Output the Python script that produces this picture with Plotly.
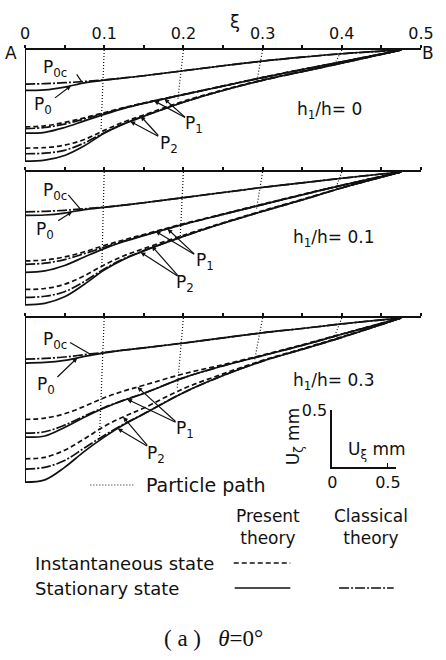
import numpy as np
import plotly.graph_objects as go

# ---------------- data (downward displacement U_zeta in mm) -------------
XI = [0, 0.025, 0.05, 0.075, 0.1, 0.125, 0.15, 0.2, 0.25, 0.3, 0.35, 0.4, 0.475]
TOP_TICKS = [0, 0.05, 0.1, 0.15, 0.2, 0.25, 0.3, 0.35, 0.4, 0.45, 0.5]
TOP_LABELS = ["0", "", "0.1", "", "0.2", "", "0.3", "", "0.4", "", "0.5"]
PANEL_LABELS = ["h<sub>1</sub>/h= 0", "h<sub>1</sub>/h= 0.1", "h<sub>1</sub>/h= 0.3"]

# h1/h = 0
H0_P0C = [0.30, 0.295, 0.287, 0.276, 0.262, 0.245, 0.226, 0.182, 0.138, 0.097, 0.063, 0.033, 0]
H0_P0 = [0.355, 0.35, 0.325, 0.288, 0.265, 0.245, 0.226, 0.182, 0.138, 0.097, 0.063, 0.033, 0]
H0_P1_INST = [0.675, 0.665, 0.635, 0.595, 0.55, 0.505, 0.465, 0.39, 0.315, 0.24, 0.17, 0.103, 0]
H0_P1_CLAS = [0.69, 0.68, 0.65, 0.605, 0.556, 0.508, 0.467, 0.392, 0.317, 0.242, 0.171, 0.104, 0]
H0_P1_STAT = [0.73, 0.722, 0.68, 0.622, 0.565, 0.512, 0.468, 0.392, 0.317, 0.242, 0.171, 0.104, 0]
H0_P2_INST = [0.86, 0.856, 0.835, 0.785, 0.705, 0.63, 0.57, 0.45, 0.35, 0.262, 0.187, 0.112, 0]
H0_P2_CLAS = [0.91, 0.905, 0.88, 0.815, 0.725, 0.645, 0.58, 0.458, 0.355, 0.266, 0.19, 0.115, 0]
H0_P2_STAT = [0.975, 0.966, 0.925, 0.84, 0.73, 0.648, 0.582, 0.458, 0.355, 0.266, 0.19, 0.115, 0]

# h1/h = 0.1
H1_P0C = [0.35, 0.345, 0.336, 0.323, 0.308, 0.29, 0.27, 0.225, 0.18, 0.135, 0.095, 0.055, 0]
H1_P0 = [0.38, 0.377, 0.36, 0.33, 0.31, 0.29, 0.27, 0.225, 0.18, 0.135, 0.095, 0.055, 0]
H1_P1_INST = [0.78, 0.772, 0.745, 0.70, 0.645, 0.595, 0.548, 0.455, 0.368, 0.282, 0.197, 0.116, 0]
H1_P1_CLAS = [0.81, 0.80, 0.768, 0.716, 0.66, 0.605, 0.555, 0.46, 0.372, 0.286, 0.20, 0.118, 0]
H1_P1_STAT = [0.88, 0.868, 0.82, 0.745, 0.672, 0.61, 0.558, 0.46, 0.372, 0.286, 0.20, 0.118, 0]
H1_P2_INST = [1.03, 1.022, 0.985, 0.91, 0.815, 0.735, 0.672, 0.555, 0.445, 0.34, 0.24, 0.138, 0]
H1_P2_CLAS = [1.10, 1.09, 1.05, 0.96, 0.85, 0.76, 0.69, 0.565, 0.45, 0.345, 0.245, 0.14, 0]
H1_P2_STAT = [1.165, 1.152, 1.095, 0.985, 0.86, 0.765, 0.692, 0.565, 0.45, 0.345, 0.245, 0.14, 0]

# h1/h = 0.3
H3_P0C = [0.36, 0.355, 0.342, 0.322, 0.302, 0.281, 0.262, 0.22, 0.175, 0.13, 0.092, 0.052, 0]
H3_P0 = [0.395, 0.39, 0.372, 0.337, 0.306, 0.282, 0.262, 0.22, 0.175, 0.13, 0.092, 0.052, 0]
H3_P1_INST = [0.89, 0.878, 0.84, 0.775, 0.70, 0.64, 0.59, 0.49, 0.41, 0.325, 0.235, 0.14, 0]
H3_P1_CLAS = [1.01, 0.998, 0.94, 0.86, 0.785, 0.72, 0.66, 0.525, 0.42, 0.33, 0.24, 0.143, 0]
H3_P1_STAT = [1.045, 1.035, 0.96, 0.87, 0.79, 0.722, 0.662, 0.525, 0.42, 0.33, 0.24, 0.143, 0]
H3_P2_INST = [1.235, 1.222, 1.16, 1.06, 0.95, 0.865, 0.79, 0.62, 0.49, 0.372, 0.27, 0.165, 0]
H3_P2_CLAS = [1.325, 1.31, 1.25, 1.14, 1.03, 0.93, 0.84, 0.655, 0.505, 0.378, 0.275, 0.17, 0]
H3_P2_STAT = [1.44, 1.42, 1.31, 1.17, 1.045, 0.935, 0.842, 0.655, 0.505, 0.378, 0.275, 0.17, 0]

# particle paths: start on surface at PATH_START, end at (PATH_END_XI, PATH_END_DEPTH)
PATH_START = [0.1, 0.2, 0.3, 0.4]
H0_PATH_END_XI = [0.096, 0.193, 0.293, 0.392]
H0_PATH_END_DEPTH = [0.70, 0.43, 0.265, 0.11]
H1_PATH_END_XI = [0.097, 0.196, 0.292, 0.393]
H1_PATH_END_DEPTH = [0.83, 0.57, 0.336, 0.13]
H3_PATH_END_XI = [0.094, 0.192, 0.29, 0.39]
H3_PATH_END_DEPTH = [1.05, 0.63, 0.365, 0.175]

# scale bar (mm)
SCALE_X_TICKS = [0, 0.5]
SCALE_Y_TICKS = [0.5]

PANELS = [
    dict(p0c=H0_P0C, p0=H0_P0, p1=(H0_P1_INST, H0_P1_CLAS, H0_P1_STAT),
         p2=(H0_P2_INST, H0_P2_CLAS, H0_P2_STAT), pend=(H0_PATH_END_XI, H0_PATH_END_DEPTH)),
    dict(p0c=H1_P0C, p0=H1_P0, p1=(H1_P1_INST, H1_P1_CLAS, H1_P1_STAT),
         p2=(H1_P2_INST, H1_P2_CLAS, H1_P2_STAT), pend=(H1_PATH_END_XI, H1_PATH_END_DEPTH)),
    dict(p0c=H3_P0C, p0=H3_P0, p1=(H3_P1_INST, H3_P1_CLAS, H3_P1_STAT),
         p2=(H3_P2_INST, H3_P2_CLAS, H3_P2_STAT), pend=(H3_PATH_END_XI, H3_PATH_END_DEPTH)),
]

# ---------------- layout geometry ----------------
W, H = 446, 660
ML, MR, MT, MB = 25, 15, 50, 175
PW, PH = W - ML - MR, H - MT - MB
PX_PER_MM = 114.0
PANEL_TOP_PX = [50, 172, 318]
PAD = 0.02

FONT = "DejaVu Sans"
BLACK = "#111111"
DASH = "5px,3px"
DASHDOT = "10px,2px,2px,2px"
LW = 1.7


def px_x(px):
    return (px - ML) / PW


def px_y(py):
    return (H - MB - py) / PH


fig = go.Figure()
layout_axes = {}
annotations = []

for i, pan in enumerate(PANELS):
    n = "" if i == 0 else str(i + 1)
    xa, ya = "x" + n, "y" + n
    depth = max(pan["p2"][2])
    top = PANEL_TOP_PX[i]
    bottom = top + (depth + PAD) * PX_PER_MM
    starts = [pan["p0c"][0], pan["p0"][0]] + [c[0] for c in pan["p1"]] + [c[0] for c in pan["p2"]]

    layout_axes["xaxis" + n] = dict(
        domain=[0, 1], range=[0, 0.5], anchor=ya, side="top", showline=True,
        linecolor=BLACK, linewidth=1.8, ticks="outside", ticklen=3, tickwidth=1.6,
        tickcolor=BLACK, tickvals=TOP_TICKS, ticktext=TOP_LABELS,
        showticklabels=(i == 0), showgrid=False, zeroline=False,
        tickfont=dict(family=FONT, size=16, color=BLACK),
    )
    layout_axes["yaxis" + n] = dict(
        domain=[px_y(bottom), px_y(top)], range=[-(depth + PAD), 0], anchor=xa,
        showline=False, showgrid=False, zeroline=False, ticks="inside", ticklen=3,
        tickwidth=1.2, tickcolor=BLACK, tickvals=[-s for s in starts],
        showticklabels=False,
    )

    # particle paths
    ex, ed = pan["pend"]
    for s, x_end, d_end in zip(PATH_START, ex, ed):
        fig.add_trace(go.Scatter(x=[s, x_end], y=[0, -d_end], mode="lines", xaxis=xa, yaxis=ya,
                                 line=dict(color=BLACK, width=1.2, dash="1px,2px"),
                                 showlegend=False, hoverinfo="skip"))

    # left wall
    fig.add_trace(go.Scatter(x=[0, 0], y=[0, -depth], mode="lines", xaxis=xa, yaxis=ya,
                             line=dict(color=BLACK, width=2.0), showlegend=False, hoverinfo="skip"))

    def add(curve, dash, width=LW):
        fig.add_trace(go.Scatter(x=XI, y=[-v for v in curve], mode="lines", xaxis=xa, yaxis=ya,
                                 line=dict(color=BLACK, width=width, dash=dash, shape="spline", smoothing=1.0),
                                 showlegend=False, hoverinfo="skip"))

    add(pan["p0c"], DASHDOT)
    add(pan["p0"], "solid")
    inst1, clas1, stat1 = pan["p1"]
    inst2, clas2, stat2 = pan["p2"]
    add(inst1, DASH)
    add(clas1, DASHDOT)
    add(stat1, "solid")
    add(inst2, DASH)
    add(clas2, DASHDOT)
    add(stat2, "solid")

# ---------------- labels on curves ----------------
def yat(xi, curve):
    return -float(np.interp(xi, XI, curve))


label_specs = [
    dict(p=0, p0c_txt=(0.038, -0.16), p0c_tail=(0.064, -0.20), p0c_tip=0.0715,
         p0_txt=(0.023, -0.487), p0_tail=(0.036, -0.43), p0_tip=0.058,
         p1_txt=(0.214, -0.65), p1_tail=(0.204, -0.60), p1_tips=(0.163, 0.176),
         p2_txt=(0.182, -0.825), p2_tail=(0.17, -0.763), p2_tips=(0.146, 0.133),
         h_txt=(0.384, -0.535)),
    dict(p=1, p0c_txt=(0.038, -0.17), p0c_tail=(0.053, -0.187), p0c_tip=0.07,
         p0_txt=(0.025, -0.51), p0_tail=(0.040, -0.436), p0_tip=0.0595,
         p1_txt=(0.227, -0.785), p1_tail=(0.2155, -0.73), p1_tips=(0.165, 0.18),
         p2_txt=(0.202, -0.98), p2_tail=(0.1945, -0.92), p2_tips=(0.16, 0.146),
         h_txt=(0.39, -0.58)),
    dict(p=2, p0c_txt=(0.038, -0.20), p0c_tail=(0.055, -0.208), p0c_tip=0.082,
         p0_txt=(0.026, -0.59), p0_tail=(0.039, -0.53), p0_tip=0.066,
         p1_txt=(0.202, -0.975), p1_tail=(0.192, -0.92), p1_tips=(0.142, 0.129),
         p2_txt=(0.165, -1.193), p2_tail=(0.156, -1.13), p2_tips=(0.124, 0.117),
         h_txt=(0.39, -0.56)),
]

for spec in label_specs:
    i = spec["p"]
    pan = PANELS[i]
    n = "" if i == 0 else str(i + 1)
    xa, ya = "x" + n, "y" + n

    def txt(pos, text, size=17):
        annotations.append(dict(x=pos[0], y=pos[1], xref=xa, yref=ya, text=text, showarrow=False,
                                font=dict(family=FONT, size=size, color=BLACK)))

    def arrow(tail, tipx, curve, head=2):
        annotations.append(dict(x=tipx, y=yat(tipx, curve), ax=tail[0], ay=tail[1], axref=xa, ayref=ya,
                                xref=xa, yref=ya, text="", showarrow=True, arrowhead=head,
                                arrowsize=0.8, arrowwidth=1.2, arrowcolor=BLACK, standoff=0))

    txt(spec["p0c_txt"], "P<sub>0c</sub>")
    arrow(spec["p0c_tail"], spec["p0c_tip"], pan["p0c"], head=0)
    txt(spec["p0_txt"], "P<sub>0</sub>")
    arrow(spec["p0_tail"], spec["p0_tip"], pan["p0"])
    txt(spec["p1_txt"], "P<sub>1</sub>")
    arrow(spec["p1_tail"], spec["p1_tips"][0], pan["p1"][0])
    arrow(spec["p1_tail"], spec["p1_tips"][1], pan["p1"][2])
    txt(spec["p2_txt"], "P<sub>2</sub>")
    arrow(spec["p2_tail"], spec["p2_tips"][0], pan["p2"][0])
    arrow(spec["p2_tail"], spec["p2_tips"][1], pan["p2"][2])
    txt(spec["h_txt"], PANEL_LABELS[i], size=17)

# ---------------- scale bar inset ----------------
layout_axes["xaxis4"] = dict(
    domain=[px_x(340), px_x(405)], range=[0, 0.57], anchor="y4", showline=True, linecolor=BLACK,
    linewidth=1.6, ticks="inside", ticklen=4, tickcolor=BLACK, tickvals=SCALE_X_TICKS,
    ticktext=[str(v) if v else "0" for v in SCALE_X_TICKS], showgrid=False, zeroline=False,
    tickfont=dict(family=FONT, size=16, color=BLACK),
)
layout_axes["yaxis4"] = dict(
    domain=[px_y(466.7), px_y(410)], range=[0, 0.5], anchor="x4", showline=True, linecolor=BLACK,
    linewidth=1.6, ticks="inside", ticklen=4, tickcolor=BLACK, tickvals=SCALE_Y_TICKS,
    ticktext=[str(v) for v in SCALE_Y_TICKS], showgrid=False, zeroline=False,
    tickfont=dict(family=FONT, size=16, color=BLACK),
)
fig.add_trace(go.Scatter(x=[0], y=[0], xaxis="x4", yaxis="y4", mode="markers",
                         marker=dict(opacity=0), showlegend=False, hoverinfo="skip"))


def paper_txt(px, py, text, size=17, xanchor="center", family=FONT, angle=0):
    annotations.append(dict(x=px_x(px), y=px_y(py), xref="paper", yref="paper", text=text,
                            showarrow=False, xanchor=xanchor, yanchor="middle", textangle=angle,
                            font=dict(family=family, size=size, color=BLACK)))


paper_txt(301, 437, "U<sub>ζ</sub> mm", size=17, angle=-90)
paper_txt(386, 450, "U<sub>ξ</sub> mm", size=17)

paper_txt(240, 22, "ξ", size=18)
paper_txt(11, 53, "A", size=17)
paper_txt(438, 53, "B", size=17)

# legend
shapes = []


def seg(x0, x1, y, dash, width=1.6):
    shapes.append(dict(type="line", xref="paper", yref="paper", x0=px_x(x0), x1=px_x(x1),
                       y0=px_y(y), y1=px_y(y), line=dict(color=BLACK, width=width, dash=dash)))


seg(92, 136, 485, "1px,2px", 1.2)
paper_txt(147, 485, "Particle path", size=19, xanchor="left")
paper_txt(274, 527, "Present<br>theory", size=17)
paper_txt(380, 527, "Classical<br>theory", size=17)
paper_txt(33, 563, "Instantaneous state", size=18, xanchor="left")
paper_txt(33, 588, "Stationary state", size=18, xanchor="left")
seg(239, 297, 563, DASH)
seg(240, 297, 588, "solid")
seg(347, 403, 588, DASHDOT)
paper_txt(218, 638, "( a )   <i>θ</i>=0°", size=23, family="Liberation Serif")

fig.update_layout(
    width=W, height=H, margin=dict(l=ML, r=MR, t=MT, b=MB),
    paper_bgcolor="white", plot_bgcolor="rgba(0,0,0,0)", showlegend=False,
    annotations=annotations, shapes=shapes, **layout_axes,
)

fig.write_html("out.html")
